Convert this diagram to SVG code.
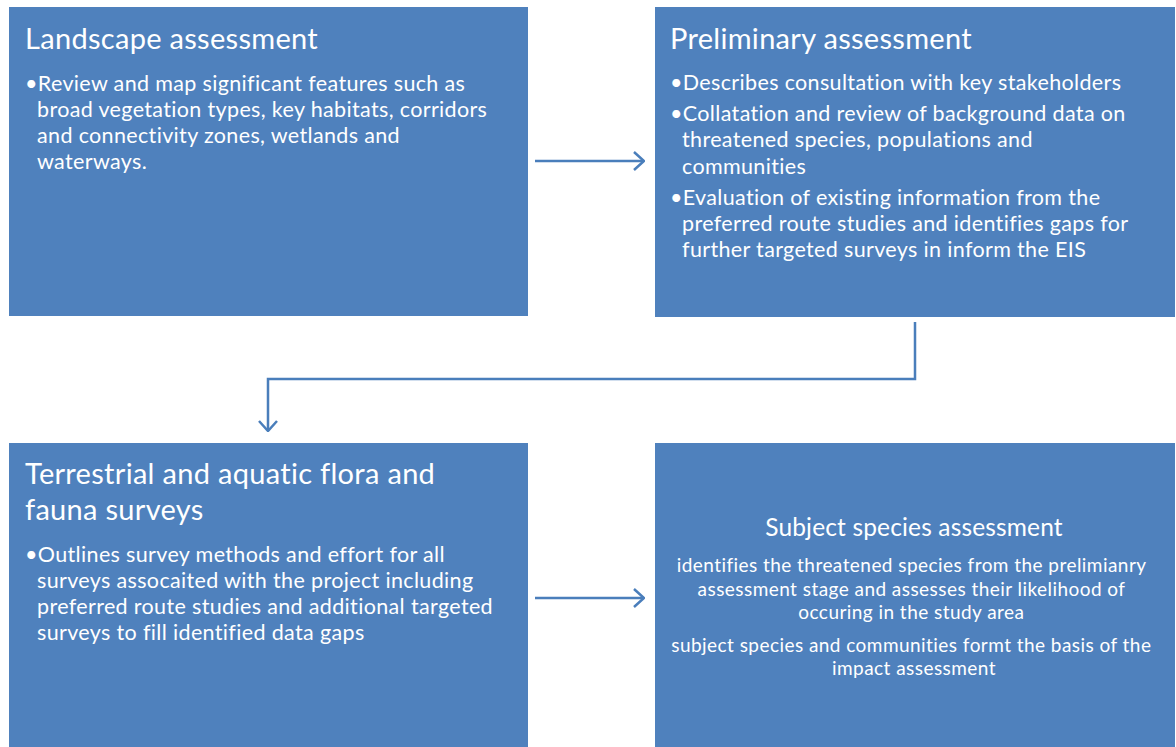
<svg xmlns="http://www.w3.org/2000/svg" width="1176" height="747" viewBox="0 0 1176 747">
  <style>
    .box { fill: #4F81BD; }
    .title { font-family: Lato, "Liberation Sans", sans-serif; font-size: 29px; letter-spacing: 0.3px; fill: #FFFFFF; }
    .body { font-family: Lato, "Liberation Sans", sans-serif; font-size: 21.5px; letter-spacing: 0.35px; fill: #FFFFFF; }
    .center { font-family: Lato, "Liberation Sans", sans-serif; fill: #FFFFFF; text-anchor: middle; }
    .center-title { font-size: 24.5px; letter-spacing: 0.15px; }
    .center-body { font-size: 19px; letter-spacing: 0.45px; }
    .conn { fill: none; stroke: #4A7EBB; stroke-width: 2.5; }
  </style>
  <defs>
    <marker id="open-arrow" viewBox="0 0 12 20" refX="11" refY="10" markerWidth="12" markerHeight="20" markerUnits="userSpaceOnUse" orient="auto">
      <path d="M1,1 L11,10 L1,19" fill="none" stroke="#4A7EBB" stroke-width="2.5"/>
    </marker>
  </defs>

  <g id="landscape-assessment">
    <rect class="box" x="9" y="7" width="519" height="309"/>
    <text class="title" x="25" y="49">Landscape assessment</text>
    <text class="body">
      <tspan x="25" y="91">•Review and map significant features such as</tspan>
      <tspan x="37" y="117">broad vegetation types, key habitats, corridors</tspan>
      <tspan x="37" y="143">and connectivity zones, wetlands and</tspan>
      <tspan x="37" y="169">waterways.</tspan>
    </text>
  </g>

  <g id="preliminary-assessment">
    <rect class="box" x="655" y="7" width="520" height="310"/>
    <text class="title" x="670" y="49">Preliminary assessment</text>
    <text class="body">
      <tspan x="670" y="90">•Describes consultation with key stakeholders</tspan>
      <tspan x="670" y="121">•Collatation and review of background data on</tspan>
      <tspan x="682" y="147">threatened species, populations and</tspan>
      <tspan x="682" y="174">communities</tspan>
      <tspan x="670" y="205">•Evaluation of existing information from the</tspan>
      <tspan x="682" y="231">preferred route studies and identifies gaps for</tspan>
      <tspan x="682" y="257">further targeted surveys in inform the EIS</tspan>
    </text>
  </g>

  <g id="flora-fauna-surveys">
    <rect class="box" x="9" y="443" width="519" height="304"/>
    <text class="title">
      <tspan x="25" y="484">Terrestrial and aquatic flora and</tspan>
      <tspan x="25" y="520">fauna surveys</tspan>
    </text>
    <text class="body">
      <tspan x="25" y="562">•Outlines survey methods and effort for all</tspan>
      <tspan x="37" y="588">surveys assocaited with the project including</tspan>
      <tspan x="37" y="614">preferred route studies and additional targeted</tspan>
      <tspan x="37" y="640">surveys to fill identified data gaps</tspan>
    </text>
  </g>

  <g id="subject-species-assessment">
    <rect class="box" x="655" y="443" width="520" height="304"/>
    <text class="center center-title" x="914" y="536">Subject species assessment</text>
    <text class="center center-body">
      <tspan x="914" y="572">identifies the threatened species from the prelimianry</tspan>
      <tspan x="914" y="596">assessment stage and assesses their likelihood of</tspan>
      <tspan x="914" y="619">occuring in the study area</tspan>
      <tspan x="914" y="652">subject species and communities formt the basis of the</tspan>
      <tspan x="914" y="675">impact assessment</tspan>
    </text>
  </g>

  <g id="connectors">
    <path class="conn" d="M535,161 L644,161" marker-end="url(#open-arrow)"/>
    <path class="conn" d="M915,322 L915,379 L268,379 L268,431" marker-end="url(#open-arrow)"/>
    <path class="conn" d="M535,598 L644,598" marker-end="url(#open-arrow)"/>
  </g>
</svg>
